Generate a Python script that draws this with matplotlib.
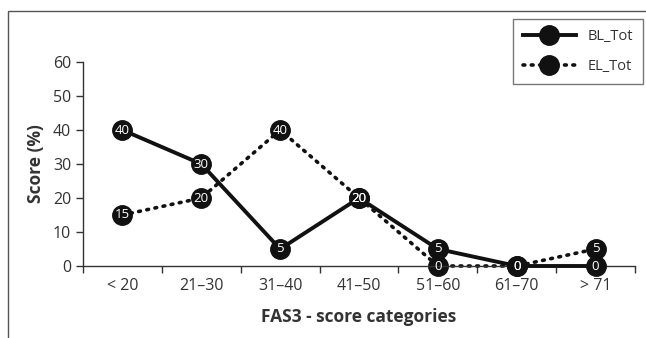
import matplotlib.pyplot as plt
from matplotlib.patches import Rectangle

# data
categories = ['< 20', '21\u201330', '31\u201340', '41\u201350', '51\u201360', '61\u201370', '> 71']
bl_tot = [40, 30, 5, 20, 5, 0, 0]
el_tot = [15, 20, 40, 20, 0, 0, 5]

plt.rcParams['font.family'] = ['Open Sans', 'DejaVu Sans']
txt = '#333333'

fig = plt.figure(figsize=(6.46, 3.38), dpi=100)
ax = fig.add_axes([83 / 646, 1 - 266 / 338, (635 - 83) / 646, (266 - 62) / 338])

x = list(range(len(categories)))
ax.plot(x, el_tot, color='#111111', lw=2.6, ls=(0, (0.5, 1.8)), dash_capstyle='round',
        marker='o', ms=14, mfc='#111111', mec='#111111', label='EL_Tot', zorder=2, clip_on=False)
ax.plot(x, bl_tot, color='#111111', lw=2.8, ls='-',
        marker='o', ms=14, mfc='#111111', mec='#111111', label='BL_Tot', zorder=3, clip_on=False)

for xi, v in zip(x, el_tot):
    ax.text(xi, v, str(v), color='white', ha='center', va='center', fontsize=9.5, zorder=4)
for xi, v in zip(x, bl_tot):
    ax.text(xi, v, str(v), color='white', ha='center', va='center', fontsize=9.5, zorder=5)

ax.set_xlim(-0.5, len(categories) - 0.5)
ax.set_ylim(0, 60)
ax.set_yticks(range(0, 61, 10))
ax.set_xticks(x)
ax.set_xticklabels(categories)
ax.set_xticks([i - 0.5 for i in range(len(categories) + 1)], minor=True)
ax.tick_params(axis='x', which='major', length=0, pad=9, labelsize=11.5, labelcolor=txt)
ax.tick_params(axis='x', which='minor', length=5, width=1, color='#333333')
ax.tick_params(axis='y', length=5, width=1, color='#333333', labelsize=11.5, labelcolor=txt)
for s in ['top', 'right']:
    ax.spines[s].set_visible(False)
for s in ['left', 'bottom']:
    ax.spines[s].set_color('#333333')
    ax.spines[s].set_linewidth(1)

ax.set_ylabel('Score (%)', fontsize=12.5, fontweight='bold', color=txt, labelpad=6)
ax.set_xlabel('FAS3 - score categories', fontsize=12.5, fontweight='bold', color=txt, labelpad=10)

h, l = ax.get_legend_handles_labels()
leg = fig.legend(h[::-1], l[::-1], loc='upper right', bbox_to_anchor=(643 / 646, 1 - 19 / 338),
                 borderaxespad=0, frameon=True, fancybox=False, edgecolor='#555555', fontsize=10.5,
                 handlelength=3.6, labelspacing=1.0, borderpad=0.7, handletextpad=0.8,
                 markerscale=1.0)
leg.get_frame().set_linewidth(1)
for t in leg.get_texts():
    t.set_color(txt)

# outer frame (open at right and bottom)
fig.add_artist(Rectangle((8 / 646, -0.1), 1.2, 1 - 11 / 338 + 0.1, transform=fig.transFigure,
                         fill=False, edgecolor='#555555', lw=1))

fig.savefig('out.png', dpi=100)
